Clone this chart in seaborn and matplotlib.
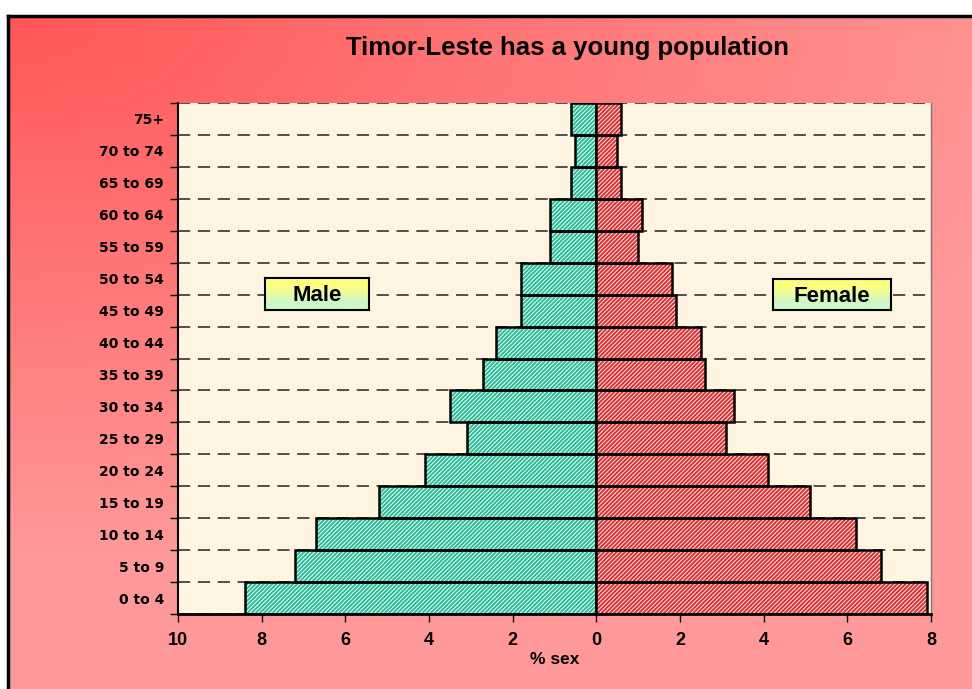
import numpy as np
import pandas as pd
import matplotlib
matplotlib.use("Agg")
import matplotlib.pyplot as plt
import seaborn as sns

age_groups = ["0 to 4", "5 to 9", "10 to 14", "15 to 19", "20 to 24", "25 to 29",
              "30 to 34", "35 to 39", "40 to 44", "45 to 49", "50 to 54", "55 to 59",
              "60 to 64", "65 to 69", "70 to 74", "75+"]
male_pct = [8.4, 7.2, 6.7, 5.2, 4.1, 3.1, 3.5, 2.7, 2.4, 1.8, 1.8, 1.1, 1.1, 0.6, 0.5, 0.6]
female_pct = [7.9, 6.8, 6.2, 5.1, 4.1, 3.1, 3.3, 2.6, 2.5, 1.9, 1.8, 1.0, 1.1, 0.6, 0.5, 0.6]
x_ticks = [-10, -8, -6, -4, -2, 0, 2, 4, 6, 8]

order = age_groups[::-1]  # oldest on top
male_df = pd.DataFrame({"age": age_groups, "pct": [-v for v in male_pct]})
female_df = pd.DataFrame({"age": age_groups, "pct": female_pct})

sns.set_theme(style="white")
plt.rcParams["font.family"] = ["Liberation Sans", "DejaVu Sans"]
plt.rcParams["hatch.linewidth"] = 0.7
for k in ["text.color", "axes.labelcolor", "xtick.color", "ytick.color"]:
    plt.rcParams[k] = "black"

fig = plt.figure(figsize=(9.72, 6.89), dpi=100)
fig.patch.set_facecolor("white")

# red -> pink gradient background with a black frame on top/left
bg = fig.add_axes([8 / 972, -0.02, 1.0, 1 - 16 / 689 + 0.02])
yy, xx = np.mgrid[0:1:200j, 0:1:300j]
t = np.clip(np.sqrt(0.8 * xx ** 2 + 1.6 * yy ** 2), 0, 1)
c0 = np.array([1.0, 0.34, 0.34])
c1 = np.array([1.0, 0.60, 0.60])
bg.imshow(c0 + (c1 - c0) * t[..., None], aspect="auto", interpolation="bilinear")
bg.set_xticks([])
bg.set_yticks([])
for side in ["right", "bottom"]:
    bg.spines[side].set_visible(False)
for side in ["left", "top"]:
    bg.spines[side].set_color("black")
    bg.spines[side].set_linewidth(2.5)

ax = fig.add_axes([178 / 972, 1 - 614 / 689, (931 - 178) / 972, (614 - 103) / 689])
ax.set_facecolor("#fdf5e1")

# hatched fill layer, then a black outline layer
for df, col in [(male_df, "#22bf94"), (female_df, "#ec2626")]:
    n0 = len(ax.patches)
    sns.barplot(data=df, x="pct", y="age", order=order, orient="h", width=1.0,
                color=col, saturation=1, errorbar=None, ax=ax)
    for p in ax.patches[n0:]:
        p.set_facecolor(col)
        p.set_edgecolor("white")
        p.set_linewidth(0)
        p.set_hatch("////////")
    n0 = len(ax.patches)
    sns.barplot(data=df, x="pct", y="age", order=order, orient="h", width=1.0,
                color="black", saturation=1, errorbar=None, ax=ax)
    for p in ax.patches[n0:]:
        p.set_facecolor("none")
        p.set_edgecolor("black")
        p.set_linewidth(1.8)

ax.set_xlim(-10, 8)
ax.set_ylim(15.5, -0.5)
ax.set_xticks(x_ticks)
ax.set_xticklabels([str(abs(v)) for v in x_ticks], fontsize=13, fontweight="bold")
ax.set_yticks(range(len(order)))
ax.set_yticklabels(order, fontsize=10, fontweight="bold", family="DejaVu Sans")
ax.set_yticks(np.arange(-0.5, len(order), 1), minor=True)
ax.tick_params(axis="y", which="major", length=0, pad=10)
ax.tick_params(axis="y", which="minor", length=6, width=1, color="black", direction="out", left=True)
ax.tick_params(axis="x", which="major", length=6, width=1, color="black", direction="out", bottom=True, pad=7)
ax.set_axisbelow(True)
ax.grid(False)
ax.grid(which="minor", axis="y", color="#222222", linestyle=(0, (8, 5)), linewidth=1.1)
ax.set_xlabel("% sex", fontsize=12.5, fontweight="bold", labelpad=2)
ax.set_ylabel("")

ax.spines["top"].set_visible(False)
ax.spines["left"].set_color("black")
ax.spines["left"].set_linewidth(1.5)
ax.spines["bottom"].set_color("black")
ax.spines["bottom"].set_linewidth(2)
ax.spines["right"].set_color("#777777")
ax.spines["right"].set_linewidth(1)

# Male / Female labels in yellow-green gradient boxes
box_grad = np.array([[[1.0, 1.0, 0.5]], [[0.80, 0.97, 0.78]]])
for label, rect in [("Male", [0.1155, 0.595, 0.138, 0.0626]),
                    ("Female", [0.790, 0.595, 0.157, 0.0606])]:
    bax = ax.inset_axes(rect)
    bax.imshow(box_grad, aspect="auto", interpolation="bilinear")
    bax.set_xticks([])
    bax.set_yticks([])
    for s in bax.spines.values():
        s.set_color("black")
        s.set_linewidth(1.5)
    bax.text(0.5, 0.44, label, transform=bax.transAxes, ha="center", va="center",
             fontsize=16, fontweight="bold")

fig.text(0.584, 0.930, "Timor-Leste has a young population", ha="center", va="center",
         fontsize=18.5, fontweight="bold")

fig.savefig("out.png", dpi=100, facecolor=fig.get_facecolor())
